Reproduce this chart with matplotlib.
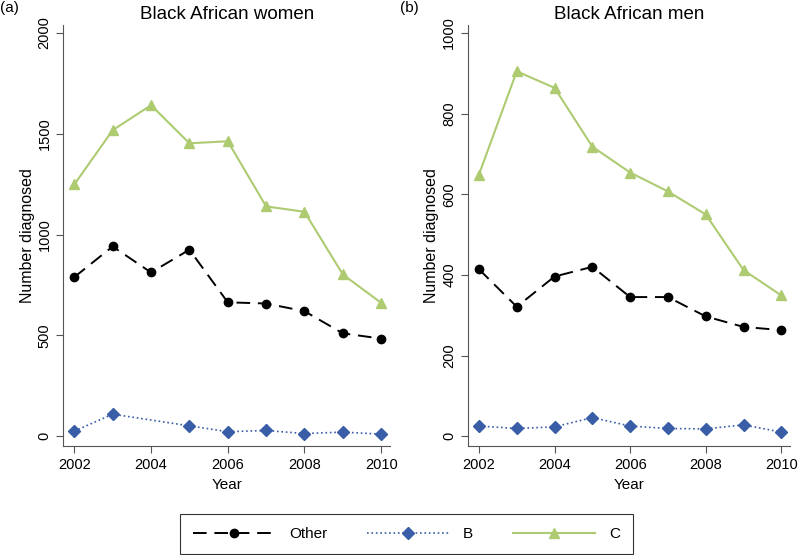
import numpy as np
import matplotlib
matplotlib.use("Agg")
import matplotlib.pyplot as plt

years = [2002, 2003, 2004, 2005, 2006, 2007, 2008, 2009, 2010]

# Black African women
women_other = [789, 941, 812, 925, 664, 658, 620, 510, 484]
women_b = [25, 109, np.nan, 51, 22, 28, 13, 20, 10]
women_c = [1249, 1518, 1642, 1453, 1463, 1140, 1113, 802, 661]

# Black African men
men_other = [414, 321, 396, 420, 345, 345, 297, 271, 263]
men_b = [25, 19, 23, 46, 25, 19, 18, 28, 10]
men_c = [649, 905, 864, 718, 654, 607, 550, 412, 349]

green = "#aecb72"
blue = "#3a5da8"
axis_grey = "#555555"

plt.rcParams['font.family'] = ['Liberation Sans', 'DejaVu Sans']

fig = plt.figure(figsize=(8, 5.55), dpi=100)
ax1 = fig.add_axes([0.079, 0.196, 0.409, 0.759])
ax2 = fig.add_axes([0.585, 0.196, 0.403, 0.759])


def draw(ax, other, b, c, title, yticks, ylim):
    yrs = np.array(years)
    b = np.array(b, dtype=float)
    ok = ~np.isnan(b)
    ax.plot(yrs, other, color="black", lw=1.4, dashes=(7, 4),
            marker="o", ms=6, label="Other")
    ax.plot(yrs[ok], b[ok], color=blue, lw=1.2, ls=":",
            marker="D", ms=6.5, label="B")
    ax.plot(yrs, c, color=green, lw=1.5,
            marker="^", ms=7, label="C")
    ax.set_xlim(2001.71, 2010.24)
    ax.set_ylim(*ylim)
    ax.set_xticks([2002, 2004, 2006, 2008, 2010])
    ax.set_yticks(yticks)
    for lab in ax.get_yticklabels():
        lab.set_rotation(90)
        lab.set_va("center")
    ax.tick_params(labelsize=10.5, color=axis_grey, length=5)
    for s in ("top", "right"):
        ax.spines[s].set_visible(False)
    for s in ("left", "bottom"):
        ax.spines[s].set_color(axis_grey)
    ax.set_xlabel("Year", fontsize=11, labelpad=4)
    ax.set_ylabel("Number diagnosed", fontsize=11.5, labelpad=2)
    ax.set_title(title, fontsize=13.5, pad=4)


draw(ax1, women_other, women_b, women_c, "Black African women",
     [0, 500, 1000, 1500, 2000], (-50, 2040))
draw(ax2, men_other, men_b, men_c, "Black African men",
     [0, 200, 400, 600, 800, 1000], (-25, 1020))

fig.text(0.0, 0.985, "(a)", fontsize=11, va="center")
fig.text(0.5, 0.985, "(b)", fontsize=11, va="center")

handles, labels = ax1.get_legend_handles_labels()
leg = fig.legend(handles, labels, loc="center", bbox_to_anchor=(0.508, 0.038),
                 ncol=3, frameon=True, fancybox=False, edgecolor="black",
                 fontsize=11, handlelength=5.4, columnspacing=2.6,
                 handletextpad=0.9, borderpad=0.85)
leg.get_frame().set_linewidth(0.8)

fig.savefig("out.png", dpi=100)
